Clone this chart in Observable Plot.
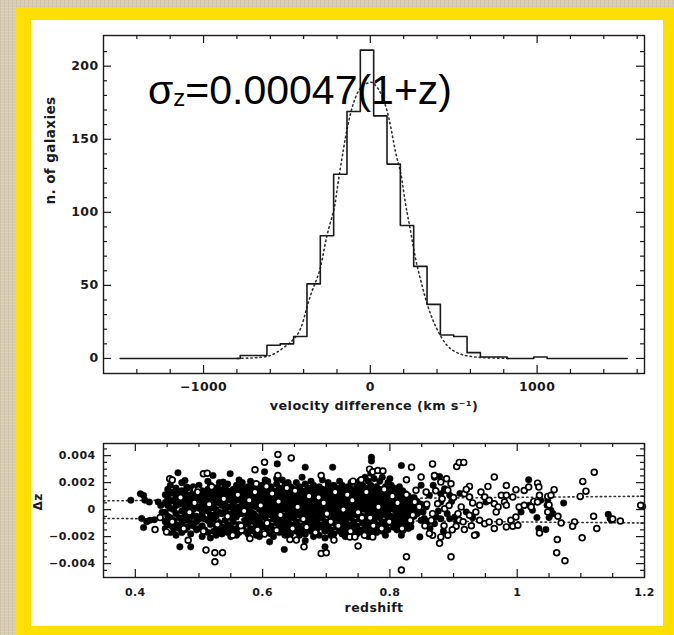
<!DOCTYPE html>
<html><head><meta charset="utf-8">
<script src="https://cdn.jsdelivr.net/npm/d3@7"></script>
<script src="https://cdn.jsdelivr.net/npm/@observablehq/plot@0.6"></script>
<style>
html,body{margin:0;padding:0;}
body{width:674px;height:635px;overflow:hidden;position:relative;
 background:#d7cdb3;
 background-image:repeating-linear-gradient(0deg,rgba(255,255,255,0.10) 0 1px,rgba(0,0,0,0) 1px 3px),repeating-linear-gradient(90deg,rgba(120,100,70,0.10) 0 1px,rgba(0,0,0,0) 1px 4px);}
#frame{position:absolute;left:16px;top:7px;width:700px;height:700px;background:#ffdf00;}
#panel{position:absolute;left:31px;top:20px;width:632px;height:606px;background:#fff;}
#top{position:absolute;left:31px;top:20px;}
#bot{position:absolute;left:31px;top:420px;}
#sig{position:absolute;left:148px;top:70px;font-family:"Liberation Sans",Arial,sans-serif;font-size:41px;line-height:41px;color:#000;white-space:nowrap;}
#sig span{font-size:24px;position:relative;top:2px;}
</style></head>
<body>
<div id="frame"></div><div id="panel"></div>
<div id="top"></div><div id="bot"></div>
<div id="sig">σ<span>z</span>=0.00047(1+z)</div>
<script>
// ---------- top panel data: velocity-difference histogram ----------
const histLo = [-1500,-1420,-1340,-1260,-1180,-1100,-1020,-940,-860,-780,-700,-620,-540,-460,-380,-300,-220,-140,-60,20,100,180,260,340,420,500,580,660,740,820,900,980,1060,1140,1220,1300,1380,1460];
const histHiEnd = 1540;
const histN = [0,0,0,0,0,0,0,0,0,2,2,9,10,15,51,84,126,169,211,166,133,91,63,37,16,15,4,1,1,0,0,1,0,0,0,0,0,0];
// dotted gaussian fit
const gaussV = [-800,-700,-620,-560,-480,-420,-380,-340,-300,-260,-220,-200,-160,-120,-80,-40,0,20,60,110,150,180,200,220,240,270,310,350,400,460,540,660,840];
const gaussN = [0,0.4,1.4,4.3,11,20,35,49,62,84,101,115,144,167,181,187,189,188,182,165,142,128,114,100,88,69,50,34,20,9,3,0.7,0];
const topXMajor = [-1000,0,1000];
const topXMinor = [-1400,-1200,-800,-600,-400,-200,200,400,600,800,1200,1400,1600];
const topYMajor = [0,50,100,150,200];
const topYMinor = [10,20,30,40,60,70,80,90,110,120,130,140,160,170,180,190,210];

// ---------- bottom panel data: Δz (in units of 1e-4) vs redshift ----------
const blobSlices = [
[0.447,[-2,5,11,-9,-14]],[0.451,[3,8,-5,15,-12]],[0.455,[-6,1,12,-11,18,6,-17]],[0.460,[0,7,-8,13,-15]],
[0.464,[-3,10,-11,16,3,-19]],[0.469,[4,-6,12,-14,8]],[0.473,[-1,6,-10,14,20,-17]],[0.478,[2,-4,10,-8,-15,13]],
[0.482,[-2,7,-13,16,-6,3]],[0.487,[-4,5,11,-10,-18,1]],[0.491,[0,8,-5,13,-12,17]],[0.496,[-5,2,10,-9,15,-15]],
[0.500,[1,7,-7,-14,12,18]],[0.505,[-4,3,9,-12,14,-20,-1]],[0.509,[2,-7,6,11,-15]],[0.514,[-1,5,8,-8,15,-17,21]],
[0.518,[1,7,-4,12,-11,18,-21,-8]],[0.523,[-4,2,9,-7,13,-16]],[0.527,[0,6,-5,11,-12,16,-19]],[0.532,[-2,5,10,-10,15,-15,20]],
[0.536,[3,-3,8,13,-13,-18]],[0.541,[-1,6,-8,11,17,-15,2]],[0.545,[-3,2,9,-11,14,-17,19]],[0.550,[2,7,-6,12,-13,-20]],
[0.554,[-4,5,10,-9,15,-16,-1]],[0.559,[1,7,-5,12,-14,18,-19]],[0.563,[-3,2,9,-11,14,-17,22]],[0.568,[0,6,-3,11,-13,16,20]],
[0.572,[-2,4,9,-8,14,-16,-11]],[0.577,[1,-5,7,12,-10,-18,17]],[0.581,[-1,5,-7,10,16,-14,21]],[0.586,[-3,3,8,-9,13,-16,19]],
[0.590,[2,6,-5,11,-12,17,-19]],[0.595,[0,4,9,-8,14,-15,-20]],[0.599,[-2,-4,7,12,-11,18,3]],[0.604,[1,5,-6,10,-13,15,22]],
[0.608,[-3,3,8,-9,13,-16,21]],[0.613,[0,6,-4,11,-12,17,-18]],[0.617,[-1,4,9,-7,14,-15,-20]],[0.622,[2,-5,7,12,-10,19,23]],
[0.626,[-2,5,-7,10,-13,16,-17]],[0.631,[0,3,8,-9,14,-16,22]],[0.635,[1,6,-5,11,-12,18,-19]],[0.640,[-2,4,9,-8,14,-15,20]],
[0.644,[2,-4,7,12,-11,-18,17]],[0.649,[0,5,-6,10,-13,15,-2]],[0.653,[-3,3,8,-9,13,-16,20]],[0.658,[1,6,-4,11,-12,17,-19]],
[0.662,[-1,4,9,-7,14,-15,24]],[0.667,[2,-5,7,12,-10,-18,19]],[0.671,[0,5,-7,10,-13,16,-3]],[0.676,[-3,3,8,-9,14,-16,21]],
[0.680,[1,6,-5,11,-12,18,-20]],[0.685,[-1,4,9,-8,14,-15,1]],[0.689,[2,-4,7,12,-11,-19,17]],[0.694,[0,5,-6,10,-13,15,22]],
[0.698,[-2,3,8,-9,13,-16,-21]],[0.703,[1,6,-4,11,-12,17,20]],[0.707,[-1,4,9,-7,14,-15,-19]],[0.712,[2,-5,7,12,-10,-18,18]],
[0.716,[0,5,-7,10,-13,16,-1]],[0.721,[-3,3,8,-9,14,-16,21]],[0.725,[1,6,-5,11,-12,18,-18]],[0.730,[-1,4,9,-8,14,-15,-20]],
[0.734,[2,-4,7,12,-11,17,-16]],[0.739,[0,5,-6,10,-13,15,20]],[0.743,[-2,3,8,-9,13,-16,-19]],[0.748,[1,6,-4,11,-12,17,-18]],
[0.752,[-1,4,9,-7,14,-15,21]],[0.757,[2,-5,7,12,-10,18,-17]],[0.761,[0,5,-7,10,-13,16,24]],[0.766,[-3,3,8,-9,14,-16,21,-20]],
[0.770,[1,6,-5,11,-12,18,27,-18]],[0.775,[-1,4,9,-8,14,-15,23]],[0.779,[2,-4,7,12,-11,17,-17]],[0.784,[0,5,-6,10,-13,15,21]],
[0.788,[-2,3,8,-9,13,-16,24]],[0.793,[1,6,-4,11,-12,17,-19]],[0.797,[-1,4,9,-7,14,-15,20]],[0.802,[2,-5,7,12,-10,18]],
[0.806,[0,5,-7,10,-13,16]],[0.811,[-3,3,8,-9,14,-15]],[0.815,[1,6,-5,11,-12,17]],[0.820,[-1,4,9,-8,14]],
[0.824,[2,-4,7,-11,12]],[0.829,[0,5,-6,10,-14]],[0.833,[-2,3,8,-9]],[0.838,[1,-5,9]],[0.843,[-3,6]],[0.849,[4,-8]]
];
const filledPts = [
[0.393,7],[0.408,11.8],[0.413,10.5],[0.415,7],[0.422,5.6],[0.41,-6.6],[0.413,-13.3],[0.423,-7.9],[0.43,-7.5],[0.436,5.6],[0.44,3],[0.418,-9],[0.442,-2],
[0.467,27.3],[0.478,21.6],[0.481,16.7],[0.47,-27.6],[0.487,-27.6],[0.522,25.3],[0.538,20.4],[0.549,26.6],
[0.623,33.9],[0.603,28],[0.667,31.4],[0.71,31.4],[0.611,-23.9],[0.634,-29.5],[0.698,-27.6],[0.667,-23],
[0.771,38.8],[0.771,36],[0.818,32.7],[0.8,22.9],[0.818,-19],[0.847,-20.2],
[0.878,24.6],[0.87,24],[0.88,5.6],[0.886,15.5],[0.951,5.6],[0.92,-1.8],[0.936,-18.5],[0.902,-5.5],[0.894,-6.8],[0.873,-5.5],[0.88,-6.8],[0.87,-10.4],[0.86,-9.1],[0.854,-6.6],
[0.88,11.8],[0.886,14.3],[0.894,10.6],[0.862,10.6],[0.849,18],[0.841,-0.5],[0.836,-4.2],[0.852,-1.8],[0.826,-10.4],[0.833,-12.8],
[0.857,2],[0.863,-14],[0.868,18],[0.876,-1],[0.884,-16],[0.89,-3],[0.897,6],[0.905,-9],[0.91,12],[0.93,-6],
[1.006,-1.8],[1.018,22.1],[1.019,3.2],[1.024,-0.5],[1.037,6.9],[1.048,6.9],[1.047,3.2],[1.053,-0.5],[1.056,-3],[1.05,-5.9],[1.073,4.9],[1.031,-5.9],[1.034,-14],[1.045,-14.8],
[1.143,-3.5],[1.146,-6.6],[1.148,-7.9],[1.197,2.4]
];
const openPts = [
[0.431,-14.8],[0.439,-5.9],[0.452,-15.3],[0.449,-16.5],[0.454,22.9],[0.458,22],[0.483,-22.7],[0.494,14.8],[0.499,14.8],[0.507,26.6],[0.513,27],[0.511,-30],[0.525,-32],[0.525,-38.7],[0.537,-32],
[0.624,40.8],[0.645,38.3],[0.603,35.1],[0.588,29.5],[0.624,25.3],[0.692,25.3],[0.59,19.2],[0.606,17.2],[0.742,21.1],[0.755,22.1],[0.768,30],[0.773,28],
[0.58,-21.4],[0.567,-15.3],[0.593,-15.3],[0.622,-15.3],[0.653,-22.6],[0.643,-22.1],[0.665,-27.6],[0.692,-32.5],[0.7,-32],[0.712,-22.6],[0.75,-27],[0.737,-20.2],[0.745,-20.2],[0.76,-19],
[0.781,29],[0.789,28.6],[0.826,22.1],[0.834,31.4],[0.773,-20.2],[0.82,-15.3],[0.832,-7.9],[0.839,5.6],[0.846,2],[0.841,14.3],[0.857,13.1],[0.849,24.1],
[0.867,33.9],[0.905,31.9],[0.909,35],[0.916,35],[0.87,25.3],[0.88,20.4],[0.889,22.9],[0.896,19.2],[0.891,14.3],[0.964,24.1],[0.925,17.2],[0.954,17.2],[0.943,13],
[0.917,11.8],[0.925,9.3],[0.949,9.3],[0.956,6.9],[0.941,3.2],[0.964,4.4],[0.97,2],[0.975,10.6],[0.98,5.6],[0.967,-1.8],[0.925,-4.2],[0.935,-1.8],[0.907,-3],[0.909,-7.9],
[0.941,-7.9],[0.949,-10.4],[0.956,-9.1],[0.964,-14],[0.972,-9.1],[0.904,-12.3],[0.917,-14.8],[0.933,-19],[0.891,-19],[0.88,-20.2],[0.867,-19],[0.862,-17.7],[0.878,-25],
[0.896,-35],[0.826,-35],[0.818,-44.8],[0.867,-3],[0.886,0.7],[0.875,4.4],[0.882,8.1],
[0.855,-12],[0.858,4],[0.865,-8],[0.872,14],[0.885,-12],[0.893,3],[0.9,9],[0.898,-15],[0.912,2],[0.915,-9],[0.92,15],[0.928,-12],[0.93,5],
[0.983,17.9],[0.983,10.6],[0.983,3.2],[0.993,9.3],[0.998,14.8],[1.003,1.9],[0.998,-5.5],[0.99,-7.9],[0.983,-12.8],[0.993,-12.3],[1.001,-11.6],[1.011,14.2],[1.018,16.7],
[1.011,3.2],[1.022,1.9],[1.026,6.1],[1.032,19.6],[1.034,16.7],[1.035,10.6],[1.032,5.6],[1.048,9.8],[1.05,3.5],[1.058,14.8],[1.053,10.6],[1.048,-1.8],[1.064,-4.9],[1.069,-9.9],
[1.035,-17.3],[1.063,-22.1],[1.062,-32],[1.075,-37.9],[1.09,-9.1],[1.087,-12.3],[1.099,9.8],[1.103,20.9],[1.108,13.7],[1.102,-20.9],[1.121,27.7],[1.12,-4.9],[1.125,-14],
[1.15,-7],[1.162,-8.4],[1.194,3.2],
[0.458,-9],[0.471,9],[0.485,-2],[0.498,13],[0.507,-16],[0.516,4],[0.529,-11],[0.539,8],[0.553,-19],[0.561,11],[0.571,-1],[0.579,7],[0.592,-15],[0.597,3],[0.607,-10],
[0.615,12],[0.628,-4],[0.638,16],[0.647,-14],[0.655,2],[0.664,-7],[0.673,10],[0.683,-17],[0.696,5],[0.701,-3],[0.714,13],[0.719,-12],[0.727,0],[0.738,-16],[0.741,7],
[0.756,-6],[0.763,13],[0.774,-12],[0.782,2],[0.791,15],[0.799,-9],[0.812,5],[0.819,-14],[0.826,11],[0.836,-4],
[0.476,-14],[0.493,5],[0.52,17],[0.545,-5],[0.566,-12],[0.588,13],[0.603,-18],[0.625,6],[0.651,14],[0.669,-13],[0.688,9],[0.707,-9],[0.733,11],[0.75,-2],[0.769,-6],[0.787,-14],[0.804,10]
];
const sigmaLineZ = [0.35, 1.2];
const sigmaLineUp = [6.5, 9.9];
const sigmaLineDn = [-6.5, -9.9];
const botXMajor = [0.4,0.6,0.8,1.0,1.2];
const botXMinor = [0.45,0.5,0.55,0.65,0.7,0.75,0.85,0.9,0.95,1.05,1.1,1.15];
const botYMajor = [-0.004,-0.002,0,0.002,0.004];
const botYMinor = [-0.0045,-0.0035,-0.003,-0.0025,-0.0015,-0.001,-0.0005,0.0005,0.001,0.0015,0.0025,0.003,0.0035,0.0045];

// ---------- build ----------
const E4 = 1e-4;
const histLine = histLo.map((x,i)=>({x, n: histN[i]})).concat([{x: histHiEnd, n: 0}]);
const gauss = gaussV.map((v,i)=>({v, n: gaussN[i]}));
const blob = blobSlices.flatMap(([z, list]) => list.map(d => ({z, dz: d*E4})));
const filled = blob.concat(filledPts.map(([z,d])=>({z, dz: d*E4})));
const open = openPts.map(([z,d])=>({z, dz: d*E4}));
const upLine = sigmaLineZ.map((z,i)=>({z, dz: sigmaLineUp[i]*E4}));
const dnLine = sigmaLineZ.map((z,i)=>({z, dz: sigmaLineDn[i]*E4}));

const ink = "#1a1a1a";
const W = 632, mL = 72, mR = 19;
const fW = W - mL - mR;
const baseStyle = {fontFamily: "DejaVu Sans", fontWeight: "bold", color: ink, background: "transparent", letterSpacing: "0.4px", overflow: "visible"};
const minus = s => s.replace("-", "\u2212");

function tickMarks(xMaj, xMin, yMaj, yMin, fH) {
  const maj = 8, mn = 4;
  return [
    Plot.tickX(xMaj, {x: d=>d, insetTop: fH - maj, stroke: ink, strokeWidth: 1.2}),
    Plot.tickX(xMin, {x: d=>d, insetTop: fH - mn, stroke: ink, strokeWidth: 1.2}),
    Plot.tickX(xMaj, {x: d=>d, insetBottom: fH - maj, stroke: ink, strokeWidth: 1.2}),
    Plot.tickX(xMin, {x: d=>d, insetBottom: fH - mn, stroke: ink, strokeWidth: 1.2}),
    Plot.tickY(yMaj, {y: d=>d, insetRight: fW - maj, stroke: ink, strokeWidth: 1.2}),
    Plot.tickY(yMin, {y: d=>d, insetRight: fW - mn, stroke: ink, strokeWidth: 1.2}),
    Plot.tickY(yMaj, {y: d=>d, insetLeft: fW - maj, stroke: ink, strokeWidth: 1.2}),
    Plot.tickY(yMin, {y: d=>d, insetLeft: fW - mn, stroke: ink, strokeWidth: 1.2})
  ];
}

// top plot
const tH = 400, tMT = 15, tMB = 47;
const topPlot = Plot.plot({
  width: W, height: tH, marginLeft: mL, marginRight: mR, marginTop: tMT, marginBottom: tMB,
  x: {domain: [-1600, 1644]}, y: {domain: [-10.3, 221]},
  style: {...baseStyle, fontSize: "12.5px"},
  marks: [
    Plot.line(gauss, {x: "v", y: "n", curve: "natural", stroke: "#333", strokeWidth: 1.6, strokeDasharray: "1.4,3.2"}),
    Plot.line(histLine, {x: "x", y: "n", curve: "step-after", stroke: ink, strokeWidth: 1.6}),
    ...tickMarks(topXMajor, topXMinor, topYMajor, topYMinor, tH - tMT - tMB),
    Plot.frame({stroke: ink, strokeWidth: 1.4}),
    Plot.axisX({ticks: topXMajor, tickSize: 0, tickPadding: 9, label: null, tickFormat: d => minus(String(d))}),
    Plot.axisY({ticks: topYMajor, tickSize: 0, tickPadding: 5, label: null, tickFormat: d => String(d)}),
    Plot.text(["velocity difference (km s\u207B\u00B9)"], {text: d=>d, frameAnchor: "bottom", dy: 32, lineAnchor: "middle", fontSize: 12.8, fill: ink}),
    Plot.text(["n. of galaxies"], {text: d=>d, frameAnchor: "left", dx: -53, rotate: -90, lineAnchor: "middle", fontSize: 13.5, fill: ink})
  ]
});
document.getElementById("top").append(topPlot);

// bottom plot
const bH = 206, bMT = 23, bMB = 49;
const botPlot = Plot.plot({
  width: W, height: bH, marginLeft: mL, marginRight: mR, marginTop: bMT, marginBottom: bMB,
  x: {domain: [0.35, 1.2]}, y: {domain: [-0.00503, 0.0049]},
  style: {...baseStyle, fontSize: "11px"},
  marks: [
    Plot.line(upLine, {x: "z", y: "dz", stroke: "#333", strokeWidth: 1.6, strokeDasharray: "1.4,3.2"}),
    Plot.line(dnLine, {x: "z", y: "dz", stroke: "#333", strokeWidth: 1.6, strokeDasharray: "1.4,3.2"}),
    Plot.dot(filled, {x: "z", y: "dz", r: 3.3, fill: "#000", stroke: "#000", strokeWidth: 0.4}),
    Plot.dot(open, {x: "z", y: "dz", r: 2.9, fill: "#fff", stroke: "#000", strokeWidth: 1.7}),
    ...tickMarks(botXMajor, botXMinor, botYMajor, botYMinor, bH - bMT - bMB),
    Plot.frame({stroke: ink, strokeWidth: 1.4}),
    Plot.axisX({ticks: botXMajor, tickSize: 0, tickPadding: 10.5, label: null, tickFormat: d => String(d)}),
    Plot.axisY({ticks: botYMajor, tickSize: 0, tickPadding: 8, label: null, tickFormat: d => d === 0 ? "0" : minus(d.toFixed(3))}),
    Plot.text(["redshift"], {text: d=>d, frameAnchor: "bottom", dy: 30, lineAnchor: "middle", fontSize: 12.5, fill: ink}),
    Plot.text(["\u0394z"], {text: d=>d, frameAnchor: "left", dx: -65, rotate: -90, lineAnchor: "middle", fontSize: 12, fill: ink})
  ]
});
document.getElementById("bot").append(botPlot);
</script>
</body></html>
